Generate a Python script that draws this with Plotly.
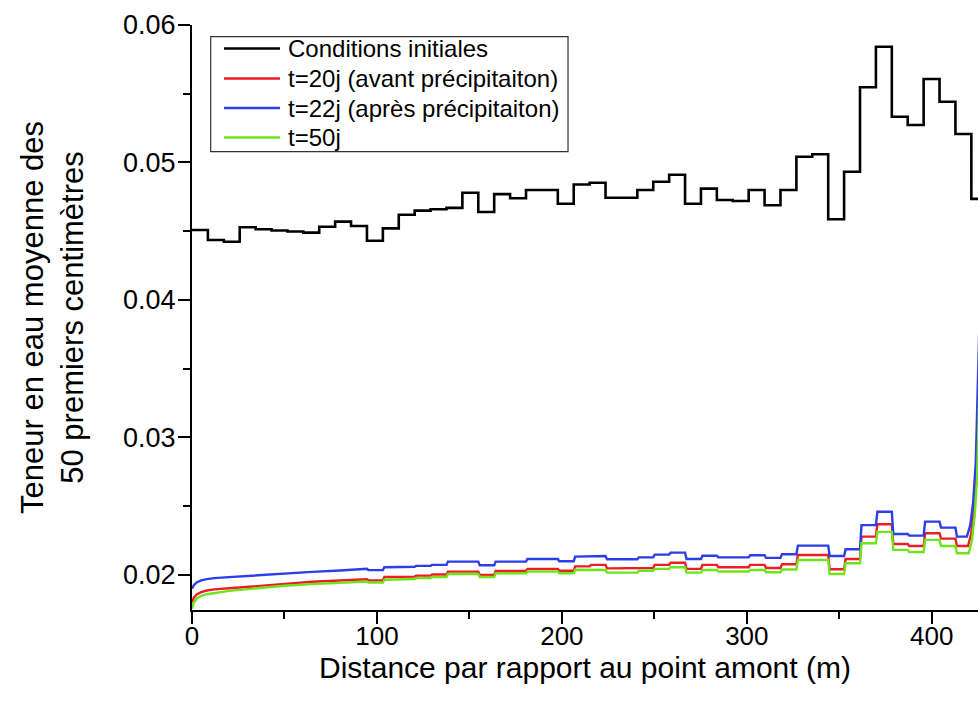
import plotly.graph_objects as go

# start of each 8.6 m cell along the slope (m)
seg_start = [0.0, 8.6, 17.2, 25.8, 34.4, 43.0, 51.6, 60.2, 68.8, 77.4,
             86.0, 94.6, 103.2, 111.8, 120.4, 129.0, 137.6, 146.2, 154.8, 163.4,
             172.0, 180.6, 189.2, 197.8, 206.4, 215.0, 223.6, 232.2, 240.8, 249.4,
             258.0, 266.6, 275.2, 283.8, 292.4, 301.0, 309.6, 318.2, 326.8, 335.4,
             344.0, 352.6, 361.2, 369.8, 378.4, 387.0, 395.6, 404.2, 412.8, 421.4]
seg_end = 430.0

# initial conditions, one value per cell
initial = [0.04509, 0.04436, 0.04424, 0.04529, 0.04514, 0.04505, 0.04498, 0.04490, 0.04533, 0.04570,
           0.04538, 0.04431, 0.04521, 0.04620, 0.04650, 0.04660, 0.04670, 0.04780, 0.04640, 0.04770,
           0.04740, 0.04800, 0.04800, 0.04700, 0.04840, 0.04853, 0.04744, 0.04744, 0.04800, 0.04860,
           0.04911, 0.04700, 0.04810, 0.04727, 0.04720, 0.04800, 0.04689, 0.04800, 0.05042, 0.05060,
           0.04587, 0.04933, 0.05547, 0.05842, 0.05333, 0.05273, 0.05607, 0.05442, 0.05207, 0.04735]

# smooth start of the simulated profiles (x < 94.6 m)
head_x = [0, 1, 2.5, 5, 8, 12, 20, 35, 50, 65, 80, 94.6]
t20_head = [0.01800, 0.01835, 0.01858, 0.01875, 0.01887, 0.01895, 0.01903, 0.01920, 0.01937, 0.01950, 0.01960, 0.01968]
t22_head = [0.01900, 0.01925, 0.01945, 0.01960, 0.01970, 0.01977, 0.01984, 0.01998, 0.02012, 0.02022, 0.02032, 0.02045]
t50_head = [0.01755, 0.01800, 0.01828, 0.01848, 0.01860, 0.01868, 0.01884, 0.01903, 0.01921, 0.01933, 0.01943, 0.01952]

# cell values for cells 11..47
t20_cells = [0.01960, 0.01985, 0.01988, 0.01995, 0.02003, 0.02024, 0.02024, 0.02000, 0.02029, 0.02029,
             0.02044, 0.02044, 0.02030, 0.02062, 0.02073, 0.02048, 0.02048, 0.02050, 0.02073, 0.02089,
             0.02044, 0.02073, 0.02056, 0.02056, 0.02073, 0.02050, 0.02078, 0.02145, 0.02145, 0.02041,
             0.02116, 0.02279, 0.02369, 0.02225, 0.02210, 0.02303, 0.02264]
t22_cells = [0.02035, 0.02056, 0.02060, 0.02066, 0.02073, 0.02097, 0.02097, 0.02070, 0.02097, 0.02097,
             0.02116, 0.02116, 0.02100, 0.02133, 0.02138, 0.02114, 0.02114, 0.02128, 0.02148, 0.02162,
             0.02116, 0.02140, 0.02128, 0.02128, 0.02143, 0.02124, 0.02151, 0.02213, 0.02213, 0.02138,
             0.02187, 0.02362, 0.02460, 0.02298, 0.02286, 0.02388, 0.02344]
t50_cells = [0.01945, 0.01965, 0.01970, 0.01977, 0.01985, 0.02007, 0.02007, 0.01985, 0.02012, 0.02012,
             0.02025, 0.02025, 0.02012, 0.02038, 0.02036, 0.02017, 0.02017, 0.02030, 0.02044, 0.02056,
             0.02017, 0.02036, 0.02025, 0.02025, 0.02036, 0.02020, 0.02040, 0.02109, 0.02109, 0.02007,
             0.02085, 0.02230, 0.02313, 0.02182, 0.02167, 0.02255, 0.02210]

# last cell and the sharp rise at the downstream end
t20_tail_x = [413.6, 419.6, 421.3, 422.8, 424.1, 425.3, 426.8, 428.5]
t20_tail_y = [0.02210, 0.02210, 0.02300, 0.02480, 0.02760, 0.03300, 0.04100, 0.04500]
t22_tail_x = [413.6, 419.0, 420.8, 422.4, 423.8, 425.0, 426.5, 428.0]
t22_tail_y = [0.02279, 0.02279, 0.02360, 0.02530, 0.02820, 0.03400, 0.04200, 0.04550]
t50_tail_x = [413.6, 420.0, 421.7, 423.2, 424.5, 425.6, 427.0, 428.8]
t50_tail_y = [0.02158, 0.02158, 0.02250, 0.02430, 0.02700, 0.03200, 0.04000, 0.04450]


def profile(head, cells, tail_x, tail_y):
    xs, ys = list(head_x), list(head)
    for i, v in enumerate(cells):
        k = 11 + i
        xs += [seg_start[k] + 0.8, seg_start[k + 1]]
        ys += [v, v]
    return xs + tail_x, ys + tail_y


arial = "Liberation Sans, Arial, sans-serif"

fig = go.Figure()
fig.add_trace(go.Scatter(x=seg_start + [seg_end], y=initial + [initial[-1]], mode="lines",
                         line=dict(color="black", width=2.6, shape="hv"),
                         name="Conditions initiales"))
series = [
    ("t=20j (avant précipitaiton)", "#ee1c24", t20_head, t20_cells, t20_tail_x, t20_tail_y),
    ("t=22j (après précipitaiton)", "#2b3ee8", t22_head, t22_cells, t22_tail_x, t22_tail_y),
    ("t=50j", "#6ee51a", t50_head, t50_cells, t50_tail_x, t50_tail_y),
]
for name, color, head, cells, tx, ty in series:
    x, y = profile(head, cells, tx, ty)
    fig.add_trace(go.Scatter(x=x, y=y, mode="lines", name=name,
                             line=dict(color=color, width=2.4)))

# legend drawn by hand so the line samples are as long as in the original
legend_names = ["Conditions initiales"] + [s[0] for s in series]
legend_colors = ["black"] + [s[1] for s in series]
rows = [0.9598, 0.9085, 0.8581, 0.8077]
fig.add_shape(type="rect", xref="paper", yref="paper", x0=0.0238, x1=0.4784, y0=0.7834, y1=0.98,
              line=dict(color="#333333", width=1.2), fillcolor="white", layer="above")
for nm, col, ry in zip(legend_names, legend_colors, rows):
    fig.add_shape(type="line", xref="paper", yref="paper", x0=0.0407, x1=0.112, y0=ry, y1=ry,
                  line=dict(color=col, width=2.4), layer="above")
    fig.add_annotation(xref="paper", yref="paper", x=0.1196, y=ry, text=nm, showarrow=False,
                       xanchor="left", yanchor="middle", font=dict(family=arial, size=24, color="black"))

fig.update_layout(
    width=978, height=707,
    margin=dict(l=192, r=0, t=25, b=97),
    plot_bgcolor="white", paper_bgcolor="white",
    showlegend=False,
    xaxis=dict(
        range=[0, 425], tick0=0, dtick=100, showgrid=False, zeroline=False, automargin=False,
        showline=True, linecolor="black", linewidth=2,
        ticks="outside", ticklen=12, tickwidth=2, tickcolor="black",
        tickfont=dict(family=arial, size=26, color="black"), ticklabelstandoff=-10,
        minor=dict(dtick=50, ticks="outside", ticklen=7, tickwidth=2, tickcolor="black"),
        title=dict(text="Distance par rapport au point amont (m)",
                   font=dict(family=arial, size=30, color="black"), standoff=0),
    ),
    yaxis=dict(
        range=[0.01745, 0.06], tick0=0.02, dtick=0.01, tickformat=".2f",
        showgrid=False, zeroline=False, automargin=False,
        showline=True, linecolor="black", linewidth=2,
        ticks="outside", ticklen=12, tickwidth=2, tickcolor="black",
        tickfont=dict(family=arial, size=27, color="black"), ticklabelstandoff=-3,
        minor=dict(dtick=0.005, ticks="outside", ticklen=7, tickwidth=2, tickcolor="black"),
        title=dict(text="Teneur en eau moyenne des<br>50 premiers centimètres",
                   font=dict(family=arial, size=31, color="black"), standoff=30),
    ),
)

# drop the default 8 px page margin so the figure fills the window exactly
fig.write_html("out.html", config={"displayModeBar": False},
               post_script="document.body.style.margin='0';document.body.style.overflow='hidden';")
